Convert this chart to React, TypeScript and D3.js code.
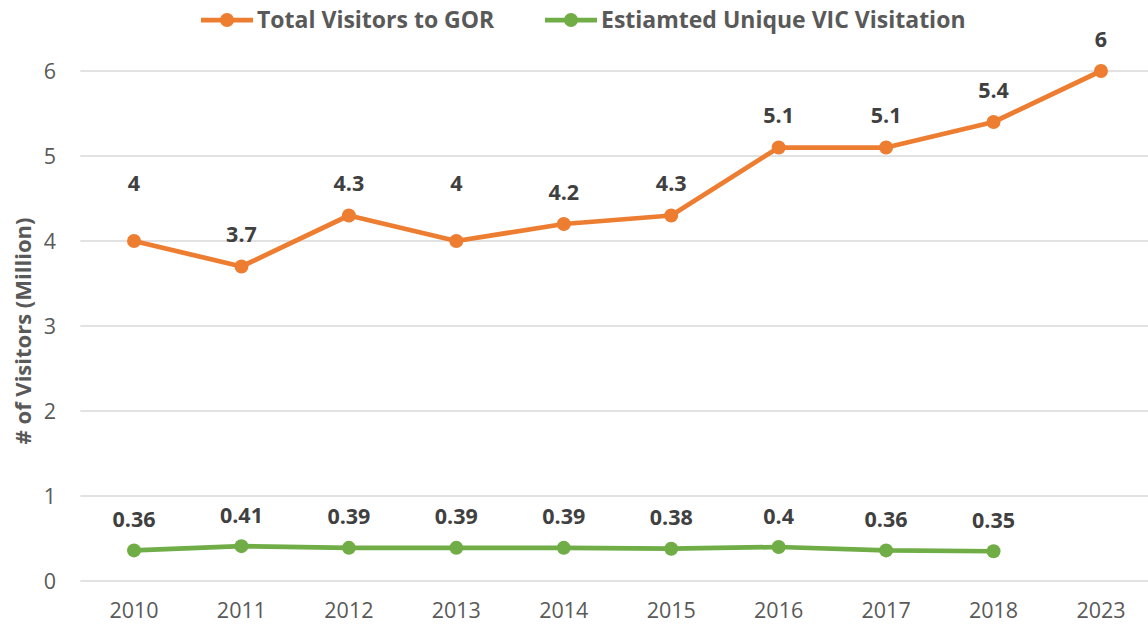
import React from "react";
import * as d3 from "d3";

const years = ["2010", "2011", "2012", "2013", "2014", "2015", "2016", "2017", "2018", "2023"];
const totalVisitors = [4, 3.7, 4.3, 4, 4.2, 4.3, 5.1, 5.1, 5.4, 6];
const uniqueVIC: (number | null)[] = [0.36, 0.41, 0.39, 0.39, 0.39, 0.38, 0.4, 0.36, 0.35, null];
const yTicks = [0, 1, 2, 3, 4, 5, 6];
const seriesNames = ["Total Visitors to GOR", "Estiamted Unique VIC Visitation"];

const W = 1148, H = 626;
const FONT = "'Open Sans', sans-serif";

export default function App() {
  const left = 80.3, right = 1154.7, top = 71, bottom = 581;
  const x = d3.scaleBand<string>().domain(years).range([left, right]);
  const y = d3.scaleLinear().domain([0, 6]).range([bottom, top]);
  const cx = (d: string) => (x(d) as number) + x.bandwidth() / 2;

  const line = d3.line<[string, number | null]>()
    .defined((d) => d[1] != null)
    .x((d) => cx(d[0]))
    .y((d) => y(d[1] as number));

  const orangeData = years.map((yr, i) => [yr, totalVisitors[i]] as [string, number | null]);
  const greenData = years.map((yr, i) => [yr, uniqueVIC[i]] as [string, number | null]);
  const orange = "#ED7D31", green = "#70AD47";

  return (
    <svg width={W} height={H} style={{ position: "absolute", left: 0, top: 0, fontFamily: FONT }}>
      <rect width={W} height={H} fill="#fff" />
      {yTicks.map((t) => (
        <g key={t}>
          <line x1={left} x2={W} y1={y(t)} y2={y(t)} stroke="#D9D9D9" strokeWidth={1.3} />
          <text x={56} y={y(t)} dy="0.35em" textAnchor="end" fontSize={21.5} fill="#595959">{t}</text>
        </g>
      ))}
      {years.map((yr) => (
        <text key={yr} x={cx(yr)} y={610} dy="0.35em" textAnchor="middle" fontSize={21.5} fill="#595959">{yr}</text>
      ))}
      <text transform={`translate(23,331) rotate(-90)`} textAnchor="middle" dy="0.35em"
        fontSize={22} fontWeight="bold" fill="#595959">
        # of Visitors (Million)
      </text>

      <path d={line(orangeData) || ""} fill="none" stroke={orange} strokeWidth={4.75} strokeLinejoin="round" />
      <path d={line(greenData) || ""} fill="none" stroke={green} strokeWidth={4.75} strokeLinejoin="round" />
      {orangeData.map(([yr, v]) => (
        <g key={"o" + yr}>
          <circle cx={cx(yr)} cy={y(v as number)} r={7} fill={orange} />
          <text x={cx(yr)} y={v === 4 ? y(4.3) - 32 : y(v as number) - 32} dy="0.35em" textAnchor="middle"
            fontSize={21.5} fontWeight="bold" fill="#404040">{String(v)}</text>
        </g>
      ))}
      {greenData.filter((d) => d[1] != null).map(([yr, v]) => (
        <g key={"g" + yr}>
          <circle cx={cx(yr)} cy={y(v as number)} r={7} fill={green} />
          <text x={cx(yr)} y={y(v as number) - 31} dy="0.35em" textAnchor="middle"
            fontSize={21.5} fontWeight="bold" fill="#404040">{String(v)}</text>
        </g>
      ))}

      {[orange, green].map((c, i) => {
        const lx = i === 0 ? 201 : 545;
        return (
          <g key={c}>
            <line x1={lx} x2={lx + 52} y1={20} y2={20} stroke={c} strokeWidth={4.75} />
            <circle cx={lx + 26} cy={20} r={7} fill={c} />
            <text x={lx + 56} y={20} dy="0.35em" fontSize={23} fontWeight="bold" fill="#595959">{seriesNames[i]}</text>
          </g>
        );
      })}
    </svg>
  );
}
